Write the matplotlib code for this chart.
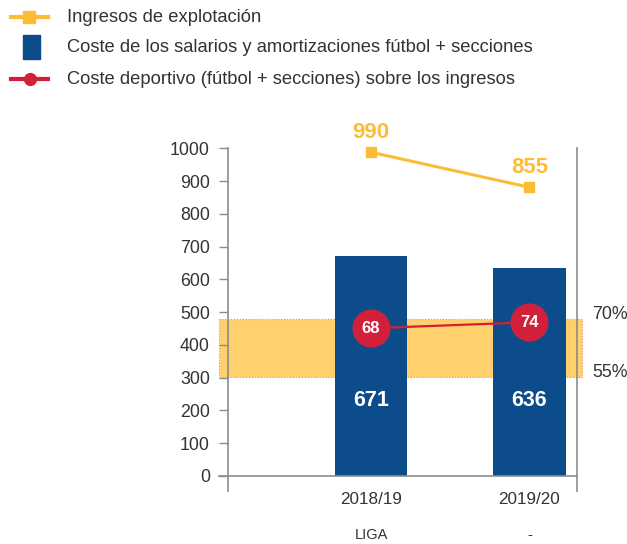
import matplotlib
matplotlib.use("Agg")
import matplotlib.pyplot as plt
from matplotlib.lines import Line2D
from matplotlib.patches import Rectangle

# ---------------- data ----------------
seasons = ["2018/19", "2019/20"]
sub_labels = ["LIGA", "-"]
salary_cost = [671, 636]              # bars
income_plot = [988, 881]              # orange line position (as drawn)
income_labels = ["990", "855"]        # orange labels
pct_plot = [451, 469]                 # red line position (left-axis units, as drawn)
pct_labels = ["68", "74"]             # red labels
band_low, band_high = 302, 480        # shaded band (55% .. 70%)
band_labels = ["55%", "70%"]
yticks = list(range(0, 1001, 100))
legend_labels = ["Ingresos de explotación",
                 "Coste de los salarios y amortizaciones fútbol + secciones",
                 "Coste deportivo (fútbol + secciones) sobre los ingresos"]

# ---------------- style ----------------
REG = "Liberation Sans"
plt.rcParams["font.family"] = [REG, "DejaVu Sans"]

ORANGE = "#FCBD35"
BLUE = "#0D4C8B"
RED = "#D2203B"
BAND = "#FFD06B"
TXT = "#333333"
GRAY = "#8C8C8C"

W, H = 627, 544
fig = plt.figure(figsize=(W / 100, H / 100), dpi=100)
ax = fig.add_axes([228 / W, 1 - 491 / H, 349 / W, (491 - 148.3) / H])
ax.set_xlim(-0.902, 1.30)
ax.set_ylim(-45.8, 1000)

x = list(range(len(seasons)))

# band
ax.axhspan(band_low, band_high, xmin=-9 / 349, xmax=1 + 5 / 349, facecolor=BAND,
           edgecolor="#E88C7A", linestyle=":", linewidth=0.8, clip_on=False, zorder=1)

# bars
ax.bar(x, salary_cost, width=0.459, color=BLUE, zorder=2)
for xi, v in zip(x, salary_cost):
    ax.text(xi, 230, str(v), color="white", fontsize=15.5, fontweight="bold",
            ha="center", va="center", zorder=5)

# orange line
ax.plot(x, income_plot, color=ORANGE, lw=2.2, marker="s", ms=6.5, zorder=4, clip_on=False)
for xi, v, lab in zip(x, income_plot, income_labels):
    ax.annotate(lab, (xi, v), xytext=(0, 10), textcoords="offset points",
                ha="center", va="baseline", color=ORANGE, fontsize=16,
                fontweight="bold", annotation_clip=False)

# red line with circles
ax.plot(x, pct_plot, color=RED, lw=1.6, marker="o", ms=26.4, zorder=6)
for xi, v, lab in zip(x, pct_plot, pct_labels):
    ax.text(xi, v, lab, color="white", fontsize=12, fontweight="bold",
            ha="center", va="center", zorder=7)

# band labels
for v, lab in zip([band_low, band_high], band_labels):
    ax.annotate(lab, (1, v), xycoords=("axes fraction", "data"), xytext=(11, 0),
                textcoords="offset points", ha="left", va="baseline",
                color=TXT, fontsize=12.8, annotation_clip=False)

# axes styling
for s in ["top", "bottom"]:
    ax.spines[s].set_visible(False)
for s in ["left", "right"]:
    ax.spines[s].set_color(GRAY)
    ax.spines[s].set_linewidth(1.2)
ax.axhline(0, xmin=-9 / 349, xmax=1, color=GRAY, lw=1.2, clip_on=False, zorder=3)

ax.set_yticks(yticks)
ax.set_yticklabels([str(t) for t in yticks])
ax.tick_params(axis="y", length=6.5, width=1.0, color=GRAY, pad=6.5,
               labelsize=12.8, labelcolor=TXT)
ax.set_xticks(x)
ax.set_xticklabels(seasons)
ax.tick_params(axis="x", length=0, pad=1, labelsize=12.3, labelcolor=TXT)
for xi, lab in zip(x, sub_labels):
    ax.annotate(lab, (xi, 0), xycoords=("data", "axes fraction"), xytext=(0, -32),
                textcoords="offset points", ha="center", va="center",
                color=TXT, fontsize=10.5, annotation_clip=False)

# ---------------- legend (manual) ----------------
def fx(px):
    return px / W

def fy(py):
    return 1 - py / H

rows = [17, 47, 79]
fig.add_artist(Line2D([fx(11), fx(48)], [fy(rows[0])] * 2, color=ORANGE, lw=3))
fig.add_artist(Line2D([fx(29)], [fy(rows[0])], marker="s", ms=9, color=ORANGE, lw=0))
fig.add_artist(Rectangle((fx(23), fy(59)), 17 / W, 24 / H, color=BLUE,
                         transform=fig.transFigure))
fig.add_artist(Line2D([fx(11), fx(48)], [fy(rows[2])] * 2, color=RED, lw=3))
fig.add_artist(Line2D([fx(30)], [fy(rows[2])], marker="o", ms=8.5, color=RED, lw=0))
for r, lab in zip(rows, legend_labels):
    fig.text(fx(67), fy(r), lab, ha="left", va="center", color=TXT, fontsize=13.2)

fig.savefig("out.png", dpi=100)
